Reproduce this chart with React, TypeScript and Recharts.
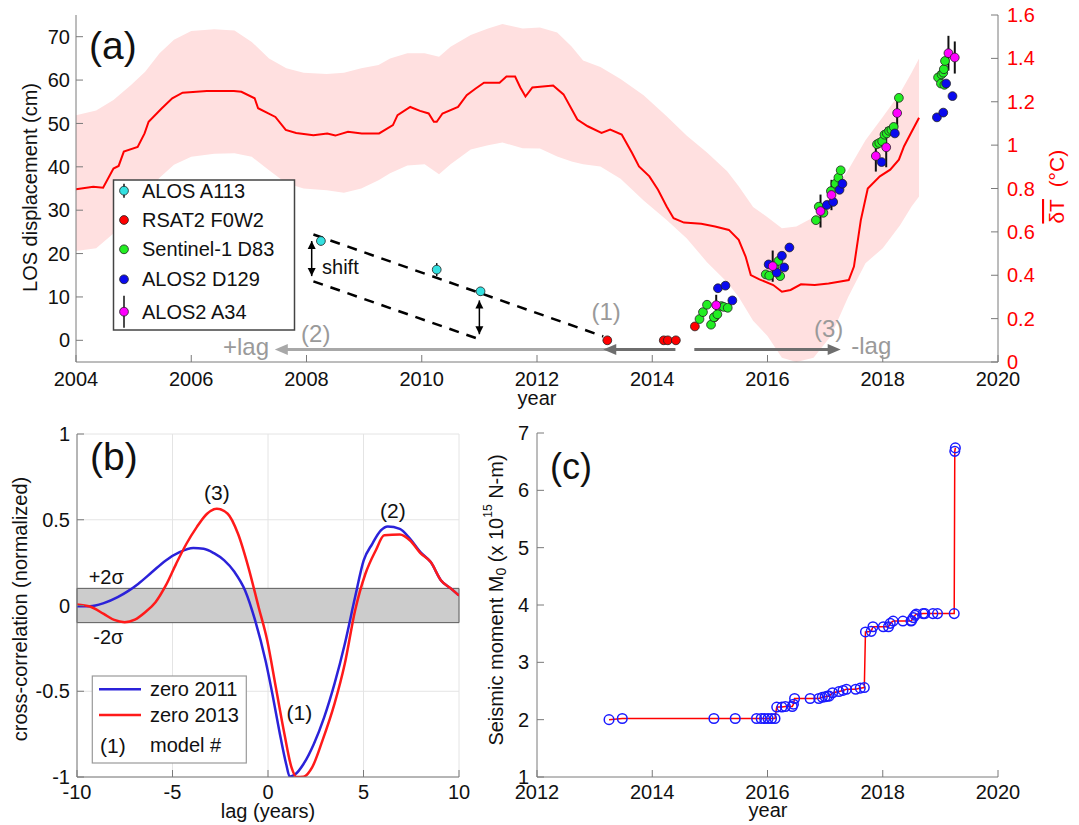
import React from 'react';
import {
  ComposedChart, Line, Area, Scatter, XAxis, YAxis, ErrorBar,
  ReferenceLine, ReferenceDot, ReferenceArea, CartesianGrid,
} from 'recharts';

const FONT = '"Liberation Sans", Arial, Helvetica, sans-serif';
const AXIS = '#7a7a7a';

// ---------- (a) temperature anomaly (right axis, deg C) ----------
const tempYears = [2004.0, 2004.3, 2004.47, 2004.65, 2004.74, 2004.83, 2005.07, 2005.19, 2005.26, 2005.49, 2005.67, 2005.85, 2006.27, 2006.74, 2006.87, 2007.1, 2007.16, 2007.46, 2007.64, 2007.82, 2008.12, 2008.36, 2008.5, 2008.72, 2008.96, 2009.26, 2009.5, 2009.58, 2009.8, 2009.97, 2010.12, 2010.21, 2010.26, 2010.36, 2010.63, 2010.78, 2010.93, 2011.08, 2011.35, 2011.47, 2011.62, 2011.71, 2011.8, 2011.92, 2012.28, 2012.46, 2012.7, 2012.88, 2013.12, 2013.27, 2013.47, 2013.65, 2013.77, 2013.95, 2014.1, 2014.25, 2014.37, 2014.55, 2014.85, 2015.09, 2015.33, 2015.5, 2015.62, 2015.71, 2015.86, 2016.1, 2016.25, 2016.4, 2016.58, 2016.82, 2017.06, 2017.24, 2017.41, 2017.5, 2017.62, 2017.74, 2017.95, 2018.13, 2018.28, 2018.37, 2018.49, 2018.63];
const tempMean = [0.796, 0.808, 0.804, 0.892, 0.904, 0.97, 0.992, 1.054, 1.108, 1.17, 1.216, 1.242, 1.25, 1.25, 1.246, 1.216, 1.17, 1.13, 1.07, 1.056, 1.046, 1.054, 1.044, 1.062, 1.054, 1.054, 1.092, 1.138, 1.176, 1.158, 1.146, 1.108, 1.108, 1.146, 1.176, 1.23, 1.26, 1.288, 1.288, 1.316, 1.316, 1.266, 1.224, 1.266, 1.275, 1.234, 1.118, 1.087, 1.056, 1.072, 1.049, 0.964, 0.902, 0.856, 0.794, 0.717, 0.663, 0.643, 0.637, 0.625, 0.609, 0.563, 0.486, 0.401, 0.381, 0.355, 0.324, 0.332, 0.358, 0.355, 0.362, 0.37, 0.378, 0.44, 0.655, 0.8, 0.856, 0.887, 0.933, 0.995, 1.056, 1.126];

const bandYears = [2004.0, 2004.35, 2004.65, 2004.95, 2005.2, 2005.45, 2005.7, 2006.0, 2006.4, 2006.75, 2007.05, 2007.35, 2007.65, 2007.95, 2008.35, 2008.65, 2008.95, 2009.25, 2009.45, 2009.75, 2010.05, 2010.3, 2010.5, 2010.85, 2011.15, 2011.4, 2011.75, 2012.05, 2012.35, 2012.6, 2012.8, 2013.1, 2013.45, 2013.85, 2014.25, 2014.6, 2014.95, 2015.3, 2015.5, 2015.75, 2016.0, 2016.25, 2016.5, 2016.8, 2017.1, 2017.4, 2017.7, 2018.0, 2018.3, 2018.5, 2018.63];
const bandLow = [0.512, 0.524, 0.592, 0.684, 0.77, 0.85, 0.91, 0.946, 0.96, 0.962, 0.946, 0.884, 0.824, 0.8, 0.792, 0.78, 0.8, 0.838, 0.87, 0.906, 0.912, 0.866, 0.912, 0.98, 1.0, 1.012, 0.986, 0.985, 0.948, 0.925, 0.912, 0.902, 0.845, 0.745, 0.655, 0.57, 0.46, 0.368, 0.3, 0.19, 0.12, 0.02, 0.0, 0.02, 0.12, 0.3, 0.455, 0.525, 0.63, 0.717, 0.763];
const bandHigh = [1.138, 1.16, 1.208, 1.276, 1.338, 1.424, 1.486, 1.526, 1.534, 1.528, 1.476, 1.4, 1.354, 1.334, 1.328, 1.334, 1.354, 1.37, 1.4, 1.424, 1.424, 1.408, 1.454, 1.508, 1.538, 1.558, 1.538, 1.542, 1.519, 1.455, 1.39, 1.36, 1.305, 1.23, 1.133, 1.043, 0.966, 0.88, 0.81, 0.715, 0.668, 0.617, 0.625, 0.668, 0.775, 0.885, 1.022, 1.13, 1.24, 1.334, 1.399];

// ---------- (a) LOS displacement (cm) ----------
const alosYears = [2008.25, 2010.26, 2011.02];
const alosLos = [22.9, 16.3, 11.3];
const alosErr = [1.0, 1.5, 1.0];

const rsatYears = [2013.22, 2014.2, 2014.27, 2014.41, 2014.74, 2015.08];
const rsatLos = [0, 0, 0, 0, 3.2, 5.3];

const s1Years = [2014.82, 2014.88, 2014.95, 2015.02, 2015.07, 2015.13, 2015.2, 2015.24, 2015.31, 2015.97, 2016.03, 2016.12, 2016.19, 2016.22, 2016.84, 2016.89, 2016.97, 2017.1, 2017.18, 2017.23, 2017.27, 2017.9, 2017.94, 2017.99, 2018.03, 2018.07, 2018.11, 2018.15, 2018.19, 2018.28, 2018.96, 2019.01, 2019.02, 2019.05, 2019.06, 2019.07, 2019.08];
const s1Los = [4.9, 6.5, 8.2, 3.6, 5.3, 6.0, 7.9, 7.7, 7.5, 15.2, 14.9, 17.0, 18.3, 14.8, 27.7, 30.8, 29.4, 34.4, 36.1, 37.5, 39.2, 45.2, 45.5, 45.9, 47.4, 47.7, 48.3, 48.5, 49.2, 55.9, 60.6, 59.2, 61.3, 61.7, 62.5, 58.9, 64.4];

const d129Years = [2015.14, 2015.27, 2015.39, 2016.02, 2016.16, 2016.25, 2016.29, 2016.38, 2017.03, 2017.14, 2017.25, 2017.3, 2017.98, 2018.21, 2018.94, 2019.05, 2019.1, 2019.21];
const d129Los = [12.0, 12.6, 9.2, 17.5, 15.6, 19.5, 16.8, 21.4, 31.2, 31.9, 34.7, 36.1, 41.1, 47.7, 51.4, 52.5, 59.2, 56.3];

const a34Years = [2015.11, 2016.09, 2016.92, 2017.11, 2017.88, 2018.06, 2018.25, 2019.14, 2019.25];
const a34Los = [8.1, 17.1, 29.8, 33.5, 42.5, 44.5, 52.4, 66.2, 65.2];
const a34Err = [2.4, 3.6, 3.8, 3.5, 3.6, 4.6, 3.2, 4.0, 3.7];

// ---------- (b) cross-correlation ----------
const lag2011 = [-10, -9.32, -8.6, -7.87, -7.33, -6.8, -6.07, -5.35, -4.63, -3.91, -3.37, -2.83, -2.29, -1.75, -1.2, -0.67, -0.13, 0.23, 0.59, 0.95, 1.14, 1.41, 1.86, 2.4, 2.94, 3.48, 4.02, 4.56, 5.01, 5.46, 5.91, 6.27, 6.9, 7.44, 7.98, 8.52, 9.06, 9.6, 10];
const corr2011 = [-0.004, -0.004, 0.014, 0.049, 0.084, 0.126, 0.195, 0.263, 0.311, 0.335, 0.331, 0.305, 0.263, 0.195, 0.088, -0.088, -0.321, -0.516, -0.73, -0.924, -0.998, -0.986, -0.924, -0.807, -0.652, -0.457, -0.224, 0.049, 0.263, 0.36, 0.438, 0.461, 0.447, 0.389, 0.311, 0.253, 0.146, 0.097, 0.058];
const lag2013 = [-10, -9.32, -8.6, -8.05, -7.51, -6.97, -6.43, -5.89, -5.35, -4.81, -4.27, -3.73, -3.19, -2.68, -2.11, -1.57, -1.03, -0.49, -0.04, 0.41, 0.86, 1.23, 1.5, 1.86, 2.31, 2.85, 3.48, 4.02, 4.56, 5.1, 5.64, 6.09, 6.9, 7.44, 7.98, 8.52, 9.06, 9.6, 10];
const corr2013 = [0.006, -0.006, -0.049, -0.084, -0.097, -0.082, -0.039, 0.019, 0.117, 0.243, 0.36, 0.457, 0.535, 0.564, 0.535, 0.418, 0.224, -0.01, -0.204, -0.477, -0.749, -0.944, -1.0, -0.998, -0.944, -0.788, -0.574, -0.34, -0.029, 0.185, 0.321, 0.409, 0.414, 0.379, 0.305, 0.253, 0.146, 0.097, 0.058];
const sigma2 = 0.1;

// ---------- (c) cumulative seismic moment ----------
const quakeYears = [2013.25, 2013.48, 2015.07, 2015.44, 2015.81, 2015.89, 2015.95, 2016.01, 2016.07, 2016.13, 2016.16, 2016.25, 2016.31, 2016.43, 2016.45, 2016.47, 2016.74, 2016.89, 2016.95, 2017.0, 2017.04, 2017.07, 2017.13, 2017.24, 2017.31, 2017.37, 2017.53, 2017.61, 2017.68, 2017.7, 2017.8, 2017.83, 2018.01, 2018.1, 2018.13, 2018.18, 2018.35, 2018.49, 2018.5, 2018.53, 2018.56, 2018.58, 2018.7, 2018.73, 2018.87, 2018.95, 2019.24, 2019.25, 2019.26];
const quakeMoment = [2.0, 2.02, 2.02, 2.02, 2.02, 2.02, 2.02, 2.02, 2.02, 2.02, 2.22, 2.22, 2.23, 2.23, 2.27, 2.37, 2.37, 2.37, 2.39, 2.4, 2.41, 2.41, 2.47, 2.49, 2.51, 2.53, 2.53, 2.55, 2.56, 3.53, 3.54, 3.62, 3.62, 3.62, 3.68, 3.72, 3.72, 3.72, 3.73, 3.78, 3.82, 3.84, 3.85, 3.85, 3.85, 3.85, 3.85, 6.68, 6.74];

// ---------- ticks ----------
const yearTicksA = [2004, 2006, 2008, 2010, 2012, 2014, 2016, 2018, 2020];
const losTicks = [0, 10, 20, 30, 40, 50, 60, 70];
const tempTicks = [0, 0.2, 0.4, 0.6, 0.8, 1, 1.2, 1.4, 1.6];
const lagTicks = [-10, -5, 0, 5, 10];
const corrTicks = [-1, -0.5, 0, 0.5, 1];
const yearTicksC = [2012, 2014, 2016, 2018, 2020];
const momentTicks = [1, 2, 3, 4, 5, 6, 7];

const pts = (xs: number[], ys: number[], es?: number[]) =>
  xs.map((x, i) => ({ x, y: ys[i], err: es ? es[i] : 0 }));

const tempData = pts(tempYears, tempMean);
const bandData = bandYears.map((x, i) => ({ x, lo: bandLow[i], hi: bandHigh[i] }));
const alosData = pts(alosYears, alosLos, alosErr);
const rsatData = pts(rsatYears, rsatLos);
const s1Data = pts(s1Years, s1Los);
const d129Data = pts(d129Years, d129Los);
const a34Data = pts(a34Years, a34Los, a34Err);
const xc2011 = pts(lag2011, corr2011);
const xc2013 = pts(lag2013, corr2013);
const momentData = pts(quakeYears, quakeMoment);

const tickStyle = { fill: '#111', fontSize: 20, fontFamily: FONT };

const dotShape = (fill: string) => (p: any) => (
  <circle cx={p.cx} cy={p.cy} r={4.4} fill={fill} stroke="#222" strokeWidth={0.8} />
);
const ringShape = (p: any) => (
  <circle cx={p.cx} cy={p.cy} r={4.8} fill="none" stroke="#1a1aff" strokeWidth={1.5} />
);

const head = (dir: 'l' | 'r' | 'u' | 'd', color: string, len: number, half: number) => (p: any) => {
  const { cx, cy } = p;
  let s = '';
  if (dir === 'l') s = `${cx},${cy} ${cx + len},${cy - half} ${cx + len},${cy + half}`;
  if (dir === 'r') s = `${cx},${cy} ${cx - len},${cy - half} ${cx - len},${cy + half}`;
  if (dir === 'u') s = `${cx},${cy} ${cx - half},${cy + len} ${cx + half},${cy + len}`;
  if (dir === 'd') s = `${cx},${cy} ${cx - half},${cy - len} ${cx + half},${cy - len}`;
  return <polygon points={s} fill={color} />;
};

const txt = (value: string, size: number, color: string, anchor: 'start' | 'middle' = 'middle') => (p: any) => (
  <text x={p.cx} y={p.cy} textAnchor={anchor} dominantBaseline="central" fontSize={size} fill={color} fontFamily={FONT}>
    {value}
  </text>
);

// annotation anchors for panel (a), in (year, cm)
const shiftUpper = [{ x: 2008.12, y: 24.4 }, { x: 2013.15, y: 0.9 }];
const shiftLower = [{ x: 2008.12, y: 13.6 }, { x: 2011.02, y: 0.15 }];
const shiftArrow1 = [{ x: 2008.09, y: 22.9 }, { x: 2008.09, y: 14.8 }];
const shiftArrow2 = [{ x: 2011.0, y: 9.2 }, { x: 2011.0, y: 1.4 }];
const lagY = -2.1;

const PanelA = () => (
  <ComposedChart width={1079} height={420} margin={{ top: 15, right: 0, bottom: 0, left: 0 }}>
    <XAxis dataKey="x" type="number" domain={[2004, 2020]} ticks={yearTicksA} height={58}
      tickSize={-7} tickMargin={17} stroke={AXIS} tick={tickStyle} allowDataOverflow />
    <XAxis xAxisId="top" orientation="top" type="number" domain={[2004, 2020]} ticks={yearTicksA}
      height={0} tickSize={-7} tick={false} stroke={AXIS} />
    <YAxis yAxisId="cm" dataKey="y" type="number" domain={[-5, 75]} ticks={losTicks} width={76}
      tickSize={-7} tickMargin={13} stroke={AXIS} tick={tickStyle} allowDataOverflow />
    <YAxis yAxisId="t" orientation="right" type="number" domain={[0, 1.6]} ticks={tempTicks} width={81}
      tickSize={-7} tickMargin={16} stroke={AXIS} tick={{ ...tickStyle, fill: '#ff0000' }} allowDataOverflow />

    <Area yAxisId="t" data={bandData} dataKey={(d: any) => [d.lo, d.hi]} type="linear"
      stroke="none" fill="#ffe0e0" fillOpacity={1} isAnimationActive={false} />
    <Line yAxisId="t" data={tempData} dataKey="y" type="linear" stroke="#ff0000" strokeWidth={2}
      dot={false} isAnimationActive={false} />

    <ReferenceLine yAxisId="cm" segment={shiftUpper} stroke="#000" strokeWidth={2.5} strokeDasharray="10 8" />
    <ReferenceLine yAxisId="cm" segment={shiftLower} stroke="#000" strokeWidth={2.5} strokeDasharray="10 8" />
    <ReferenceLine yAxisId="cm" segment={shiftArrow1} stroke="#000" strokeWidth={1.5} />
    <ReferenceLine yAxisId="cm" segment={shiftArrow2} stroke="#000" strokeWidth={1.5} />
    <ReferenceDot yAxisId="cm" x={shiftArrow1[0].x} y={shiftArrow1[0].y} shape={head('u', '#000', 8, 4)} />
    <ReferenceDot yAxisId="cm" x={shiftArrow1[1].x} y={shiftArrow1[1].y} shape={head('d', '#000', 8, 4)} />
    <ReferenceDot yAxisId="cm" x={shiftArrow2[0].x} y={shiftArrow2[0].y} shape={head('u', '#000', 8, 4)} />
    <ReferenceDot yAxisId="cm" x={shiftArrow2[1].x} y={shiftArrow2[1].y} shape={head('d', '#000', 8, 4)} />
    <ReferenceDot yAxisId="cm" x={2008.27} y={16.9} shape={txt('shift', 20, '#111', 'start')} />

    <ReferenceLine yAxisId="cm" segment={[{ x: 2007.6, y: lagY }, { x: 2014.4, y: lagY }]} stroke="#a8a8a8" strokeWidth={3} />
    <ReferenceDot yAxisId="cm" x={2007.45} y={lagY} shape={head('l', '#a8a8a8', 13, 5.5)} />
    <ReferenceLine yAxisId="cm" segment={[{ x: 2013.3, y: lagY }, { x: 2014.4, y: lagY }]} stroke="#6e6e6e" strokeWidth={3} />
    <ReferenceDot yAxisId="cm" x={2013.15} y={lagY} shape={head('l', '#6e6e6e', 13, 5.5)} />
    <ReferenceLine yAxisId="cm" segment={[{ x: 2014.73, y: lagY }, { x: 2017.1, y: lagY }]} stroke="#6e6e6e" strokeWidth={3} />
    <ReferenceDot yAxisId="cm" x={2017.27} y={lagY} shape={head('r', '#6e6e6e', 13, 5.5)} />
    <ReferenceDot yAxisId="cm" x={2013.2} y={6.6} shape={txt('(1)', 24, '#9a9a9a')} />
    <ReferenceDot yAxisId="cm" x={2008.16} y={1.5} shape={txt('(2)', 24, '#9a9a9a')} />
    <ReferenceDot yAxisId="cm" x={2006.95} y={-1.5} shape={txt('+lag', 24, '#9a9a9a')} />
    <ReferenceDot yAxisId="cm" x={2017.06} y={2.7} shape={txt('(3)', 24, '#9a9a9a')} />
    <ReferenceDot yAxisId="cm" x={2017.8} y={-1.15} shape={txt('-lag', 24, '#9a9a9a')} />

    <Scatter yAxisId="cm" data={alosData} dataKey="y" shape={dotShape('#33e0e0')} isAnimationActive={false}>
      <ErrorBar dataKey="err" direction="y" width={0} stroke="#111" strokeWidth={1.5} />
    </Scatter>
    <Scatter yAxisId="cm" data={rsatData} dataKey="y" shape={dotShape('#ff0000')} isAnimationActive={false} />
    <Scatter yAxisId="cm" data={s1Data} dataKey="y" shape={dotShape('#22ee22')} isAnimationActive={false} />
    <Scatter yAxisId="cm" data={d129Data} dataKey="y" shape={dotShape('#0a0aee')} isAnimationActive={false} />
    <Scatter yAxisId="cm" data={a34Data} dataKey="y" shape={dotShape('#ff00ff')} isAnimationActive={false}>
      <ErrorBar dataKey="err" direction="y" width={0} stroke="#111" strokeWidth={2} />
    </Scatter>
  </ComposedChart>
);

const PanelB = () => (
  <ComposedChart width={470} height={405} margin={{ top: 14, right: 11, bottom: 0, left: 0 }}>
    <CartesianGrid stroke="#e4e4e4" />
    <XAxis dataKey="x" type="number" domain={[-10, 10]} ticks={lagTicks} height={48}
      tickSize={-7} tickMargin={15} stroke={AXIS} tick={tickStyle} allowDataOverflow />
    <XAxis xAxisId="top" orientation="top" type="number" domain={[-10, 10]} ticks={lagTicks}
      height={0} tickSize={-7} tick={false} stroke={AXIS} />
    <YAxis dataKey="y" type="number" domain={[-1, 1]} ticks={corrTicks} width={77}
      tickSize={-7} tickMargin={14} stroke={AXIS} tick={tickStyle} allowDataOverflow />
    <YAxis yAxisId="r" orientation="right" type="number" domain={[-1, 1]} ticks={corrTicks} width={0}
      tickSize={-7} tick={false} stroke={AXIS} />
    <ReferenceArea y1={-sigma2} y2={sigma2} fill="#cccccc" fillOpacity={1} stroke="#5a5a5a" strokeWidth={1} />
    <Line data={xc2011} dataKey="y" type="monotone" stroke="#2b22d9" strokeWidth={2.5} dot={false} isAnimationActive={false} />
    <Line data={xc2013} dataKey="y" type="monotone" stroke="#ff1a1a" strokeWidth={2.5} dot={false} isAnimationActive={false} />
    <ReferenceDot x={-2.68} y={0.661} shape={txt('(3)', 21, '#111')} />
    <ReferenceDot x={6.54} y={0.554} shape={txt('(2)', 21, '#111')} />
    <ReferenceDot x={1.64} y={-0.623} shape={txt('(1)', 21, '#111')} />
    <ReferenceDot x={-8.47} y={0.165} shape={txt('+2σ', 20, '#111')} />
    <ReferenceDot x={-8.36} y={-0.185} shape={txt('-2σ', 20, '#111')} />
  </ComposedChart>
);

const PanelC = () => (
  <ComposedChart width={609} height={405} margin={{ top: 13, right: 81, bottom: 0, left: 0 }}>
    <XAxis dataKey="x" type="number" domain={[2012, 2020]} ticks={yearTicksC} height={48}
      tickSize={-7} tickMargin={15} stroke={AXIS} tick={tickStyle} allowDataOverflow />
    <XAxis xAxisId="top" orientation="top" type="number" domain={[2012, 2020]} ticks={yearTicksC}
      height={0} tickSize={-7} tick={false} stroke={AXIS} />
    <YAxis dataKey="y" type="number" domain={[1, 7]} ticks={momentTicks} width={67}
      tickSize={-7} tickMargin={15} stroke={AXIS} tick={tickStyle} allowDataOverflow />
    <YAxis yAxisId="r" orientation="right" type="number" domain={[1, 7]} ticks={momentTicks} width={0}
      tickSize={-7} tick={false} stroke={AXIS} />
    <Scatter data={momentData} dataKey="y" shape={ringShape} isAnimationActive={false} />
    <Line data={momentData} dataKey="y" type="linear" stroke="#ff0000" strokeWidth={1.5} dot={false} isAnimationActive={false} />
  </ComposedChart>
);

const legendA = [
  { name: 'ALOS A113', color: '#33e0e0', bar: 7 },
  { name: 'RSAT2 F0W2', color: '#ff0000', bar: 0 },
  { name: 'Sentinel-1 D83', color: '#22ee22', bar: 0 },
  { name: 'ALOS2 D129', color: '#0a0aee', bar: 0 },
  { name: 'ALOS2 A34', color: '#ff00ff', bar: 16 },
];
const legendARows = [190.7, 220, 249.3, 279.3, 311.7];

const Overlay = () => (
  <svg width={1079} height={825} style={{ position: 'absolute', left: 0, top: 0, pointerEvents: 'none' }}
    fontFamily={FONT}>
    {/* panel tags */}
    <text x={89} y={58.5} fontSize={39} fill="#111">(a)</text>
    <text x={90} y={470} fontSize={39} fill="#111">(b)</text>
    <text x={550} y={479} fontSize={36} fill="#111">(c)</text>

    {/* axis titles */}
    <text transform="translate(30,187.5) rotate(-90)" textAnchor="middle" dominantBaseline="central" fontSize={20} fill="#111">
      LOS displacement (cm)
    </text>
    <text transform="translate(1056,186.7) rotate(-90)" textAnchor="middle" dominantBaseline="central" fontSize={21} fill="#ff0000">
      <tspan textDecoration="overline">δT</tspan>{'\u00a0\u00a0(°C)'}
    </text>
    <text x={537} y={405} textAnchor="middle" fontSize={20} fill="#111">year</text>
    <text transform="translate(20,609) rotate(-90)" textAnchor="middle" dominantBaseline="central" fontSize={20} fill="#111">
      cross-correlation (normalized)
    </text>
    <text x={268} y={818} textAnchor="middle" fontSize={20} fill="#111">lag (years)</text>
    <text transform="translate(496,600) rotate(-90)" textAnchor="middle" dominantBaseline="central" fontSize={20} fill="#111">
      Seismic moment M<tspan dy={5} fontSize={14}>0</tspan>
      <tspan dy={-5}>{'\u00a0(x 10'}</tspan>
      <tspan dy={-8} fontSize={12}>15</tspan>
      <tspan dy={8}>{'\u00a0N-m)'}</tspan>
    </text>
    <text x={768} y={817} textAnchor="middle" fontSize={20} fill="#111">year</text>

    {/* legend (a) */}
    <rect x={113.5} y={180} width={181} height={150} fill="#fff" stroke="#444" strokeWidth={1.5} />
    {legendA.map((e, i) => (
      <g key={e.name}>
        {e.bar > 0 && (
          <line x1={124} x2={124} y1={legendARows[i] - e.bar} y2={legendARows[i] + e.bar} stroke="#111" strokeWidth={1.5} />
        )}
        <circle cx={124} cy={legendARows[i]} r={4.4} fill={e.color} stroke="#222" strokeWidth={0.8} />
        <text x={142} y={legendARows[i]} dominantBaseline="central" fontSize={20} fill="#111">{e.name}</text>
      </g>
    ))}

    {/* legend (b) */}
    <rect x={92.3} y={676} width={154} height={87} fill="#fff" stroke="#9a9a9a" strokeWidth={1.2} />
    <line x1={99} x2={141} y1={689.3} y2={689.3} stroke="#2b22d9" strokeWidth={2.5} />
    <text x={150} y={689.3} dominantBaseline="central" fontSize={20} fill="#111">zero 2011</text>
    <line x1={99} x2={141} y1={715} y2={715} stroke="#ff1a1a" strokeWidth={2.5} />
    <text x={150} y={715} dominantBaseline="central" fontSize={20} fill="#111">zero 2013</text>
    <text x={100} y={745} dominantBaseline="central" fontSize={21} fill="#111">(1)</text>
    <text x={150} y={745} dominantBaseline="central" fontSize={20} fill="#111">model #</text>
  </svg>
);

export default function App() {
  return (
    <div style={{ position: 'absolute', left: 0, top: 0, width: 1079, height: 825, background: '#fff', fontFamily: FONT }}>
      <div style={{ position: 'absolute', left: 0, top: 0 }}>
        <PanelA />
      </div>
      <div style={{ position: 'absolute', left: 0, top: 420 }}>
        <PanelB />
      </div>
      <div style={{ position: 'absolute', left: 470, top: 420 }}>
        <PanelC />
      </div>
      <Overlay />
    </div>
  );
}
